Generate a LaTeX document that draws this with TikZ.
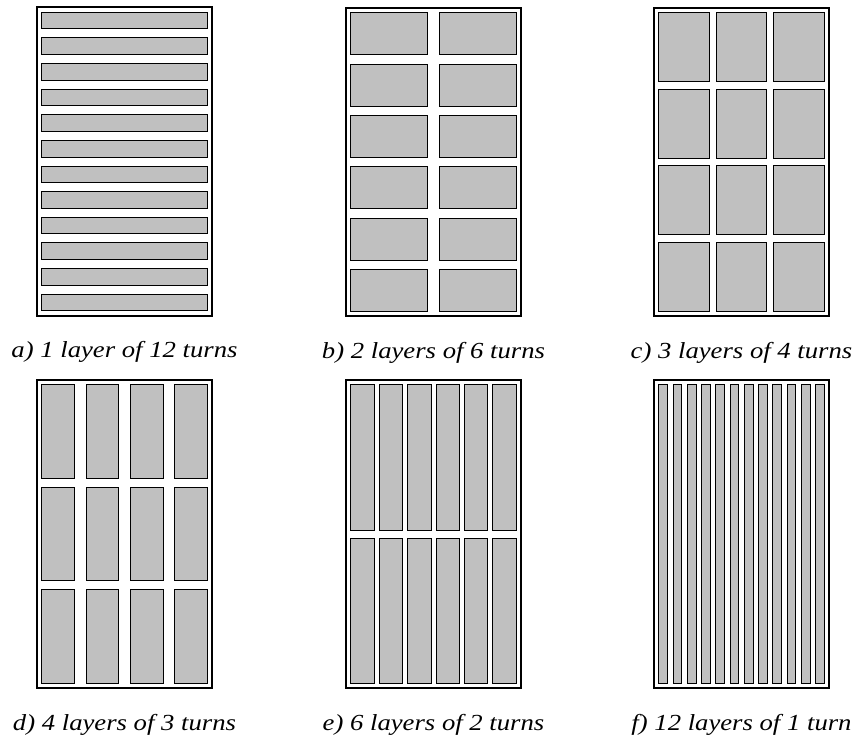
\documentclass[tikz,border=0pt]{standalone}
\usepackage{fontspec}
\setmainfont{Liberation Serif}
\usepackage{tikz}
\definecolor{turngray}{RGB}{192, 192, 192}

\newcommand{\wide}[1]{\scalebox{1.16}[1]{#1}}

\begin{document}
\begin{tikzpicture}[
    x=1pt, y=-1pt,
    frame/.style={draw=black, line width=2pt},
    turn/.style={draw=black, line width=0.9pt, fill=turngray},
    caption/.style={anchor=base, font=\fontsize{23}{27}\selectfont\itshape, inner sep=0pt}
]
    \useasboundingbox (0,0) rectangle (854,738);

    % panel / corner / layers / turns / gaps / caption
    \foreach \name/\px/\py/\nc/\nr/\gx/\gy/\lab in {
        a/37/7.5/1/12/0/9/{a) 1 layer of 12 turns},
        b/346/8/2/6/11.7/9.3/{b) 2 layers of 6 turns},
        c/654/8/3/4/6.5/7.6/{c) 3 layers of 4 turns},
        d/37/380/4/3/11.7/8.5/{d) 4 layers of 3 turns},
        e/346/380/6/2/5/8/{e) 6 layers of 2 turns},
        f/654/380/12/1/5.5/0/{f) 12 layers of 1 turn}}{
        \draw[frame] (\px,\py) rectangle ++(175,308);
        \pgfmathsetmacro\cw{(175-9.4-(\nc-1)*\gx)/\nc}
        \pgfmathsetmacro\ch{(308-9.4-(\nr-1)*\gy)/\nr}
        \foreach \i in {1,...,\nc}
            \foreach \j in {1,...,\nr}
                \draw[turn] ({\px+4.7+(\i-1)*(\cw+\gx)},{\py+4.7+(\j-1)*(\ch+\gy)})
                    rectangle ++(\cw,\ch);
        \node[caption] (cap-\name) at ({\px+87.5},{\py+350}) {\wide{\lab}};
    }
\end{tikzpicture}
\end{document}
